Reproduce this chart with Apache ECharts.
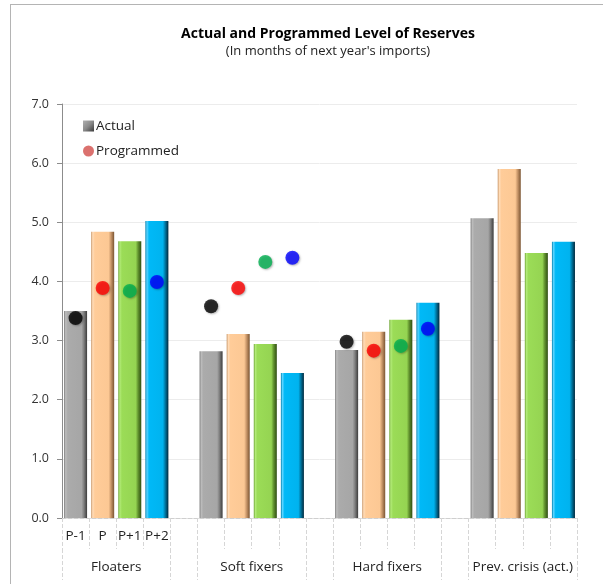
<!DOCTYPE html>
<html><head><meta charset="utf-8">
<script src="https://cdn.jsdelivr.net/npm/echarts@6/dist/echarts.min.js"></script>
<style>
html,body{margin:0;padding:0;background:#fff;}
#c{width:603px;height:584px;position:absolute;left:0;top:0;}
#frame{position:absolute;left:10px;top:4px;width:600px;height:600px;border-left:1px solid #b4b4b4;border-top:1px solid #b4b4b4;pointer-events:none;}
</style></head>
<body>
<div id="c"></div><div id="frame"></div>
<script>
const titleText = 'Actual and Programmed Level of Reserves';
const subtitleText = "(In months of next year's imports)";
const groups = ['Floaters', 'Soft fixers', 'Hard fixers', 'Prev. crisis (act.)'];
const periods = ['P-1', 'P', 'P+1', 'P+2'];
const yTicks = [0, 1, 2, 3, 4, 5, 6, 7];

const actualFloaters = [3.50, 4.84, 4.68, 5.02];
const actualSoft     = [2.82, 3.11, 2.94, 2.45];
const actualHard     = [2.84, 3.15, 3.35, 3.64];
const actualPrev     = [5.07, 5.90, 4.48, 4.67];

const progFloaters = [3.38, 3.89, 3.84, 3.99];
const progSoft     = [3.58, 3.89, 4.33, 4.40];
const progHard     = [2.98, 2.83, 2.91, 3.20];
const progPrev     = [null, null, null, null];

const barColors = [
  ['#7a7a7a', '#bdbdbd', '#ababab', '#a6a6a6', '#808080', '#3c3c3c'],
  ['#c89464', '#ffdcb8', '#ffcc99', '#fcc894', '#c9976a', '#7a5431'],
  ['#6ea336', '#b2ea78', '#9bdc57', '#95d452', '#62932f', '#2f4d12'],
  ['#0080b0', '#5ad4ff', '#00b9f7', '#00b3ef', '#0078a3', '#00283c']
];
const dotColors = ['#000000', '#ff0000', '#00b050', '#0000ff'];

const actualAll = [actualFloaters, actualSoft, actualHard, actualPrev];
const progAll = [progFloaters, progSoft, progHard, progPrev];

const cats = [], barData = [], dotData = [];
groups.forEach((g, gi) => {
  periods.forEach((p, pi) => {
    cats.push(g + '|' + p);
    const c = barColors[pi];
    barData.push({
      value: actualAll[gi][pi],
      itemStyle: {
        color: new echarts.graphic.LinearGradient(0, 0, 1, 0, [
          {offset: 0, color: c[0]}, {offset: 0.07, color: c[1]},
          {offset: 0.16, color: c[2]}, {offset: 0.76, color: c[3]},
          {offset: 0.86, color: c[4]}, {offset: 1, color: c[5]}
        ])
      }
    });
    const v = progAll[gi][pi];
    dotData.push(v == null ? '-' : {
      value: v,
      itemStyle: {
        color: dotColors[pi],
        shadowColor: 'rgba(0,0,0,0.35)', shadowBlur: 2, shadowOffsetX: 1, shadowOffsetY: 1
      }
    });
  });
  if (gi < groups.length - 1) {
    cats.push('gap' + gi);
    barData.push('-');
    dotData.push('-');
  }
});

const groupCenters = [2, 7, 12, 17];
const groupBounds = [0, 4, 5, 9, 10, 14, 15, 19];

const font = 'Open Sans';
const chart = echarts.init(document.getElementById('c'), null, {renderer: 'canvas'});
chart.setOption({
  animation: false,
  textStyle: {fontFamily: font},
  title: {
    text: titleText,
    subtext: subtitleText,
    left: 323, top: 22, textAlign: 'center', itemGap: 4,
    textStyle: {fontFamily: font, fontSize: 14, fontWeight: 'bold', color: '#000'},
    subtextStyle: {fontFamily: font, fontSize: 13, color: '#222'}
  },
  legend: {
    orient: 'vertical', left: 78, top: 114,
    itemWidth: 11, itemHeight: 11, itemGap: 11,
    textStyle: {fontFamily: font, fontSize: 13.5, color: '#222', padding: [0, 0, 0, -3]},
    data: [
      {name: 'Actual', icon: 'path://M1,1 L9,1 L9,9 L1,9 Z', itemStyle: {color: new echarts.graphic.LinearGradient(0, 0, 1, 1, [
        {offset: 0, color: '#b0b0b0'}, {offset: 0.5, color: '#8a8a8a'}, {offset: 1, color: '#3a3a3a'}])}},
      {name: 'Programmed', icon: 'circle', itemStyle: {color: '#d24e4a'}}
    ]
  },
  grid: {left: 62, right: 26, top: 104, bottom: 66, containLabel: false},
  xAxis: [
    {
      type: 'category', data: cats, position: 'bottom',
      axisLine: {show: true, lineStyle: {color: '#cfcfcf', type: 'dashed', width: 1}},
      axisTick: {show: true, interval: 0, length: 31, lineStyle: {color: '#d6d6d6', type: 'dashed'}},
      axisLabel: {
        interval: 0, margin: 11, fontSize: 13.5, color: '#222', fontFamily: font,
        formatter: (v) => { const s = v.split('|'); return s[0] === groups[0] ? s[1] : ''; }
      },
      splitLine: {show: false}
    },
    {
      type: 'value', min: 0, max: 19, position: 'bottom', offset: 31,
      axisLine: {show: false},
      axisTick: {show: true, customValues: groupBounds, length: 31, lineStyle: {color: '#d6d6d6', type: 'dashed'}},
      axisLabel: {
        customValues: groupCenters, margin: 11, fontSize: 13.5, color: '#222', fontFamily: font,
        formatter: (v) => groups[groupCenters.indexOf(v)]
      },
      splitLine: {show: false}
    }
  ],
  yAxis: {
    type: 'value', min: yTicks[0], max: yTicks[yTicks.length - 1], interval: 1,
    axisLine: {show: true, lineStyle: {color: '#8c8c8c'}},
    axisTick: {show: true, length: 5, lineStyle: {color: '#8c8c8c'}},
    axisLabel: {margin: 13, fontSize: 12.5, color: '#333', fontFamily: font, formatter: (v) => v.toFixed(1)},
    splitLine: {show: true, lineStyle: {color: '#ececec'}}
  },
  series: [
    {name: 'Actual', type: 'bar', data: barData, barCategoryGap: '15%', xAxisIndex: 0},
    {name: 'Programmed', type: 'scatter', data: dotData, symbolSize: 14, xAxisIndex: 0, z: 5}
  ]
});
</script>
</body></html>
